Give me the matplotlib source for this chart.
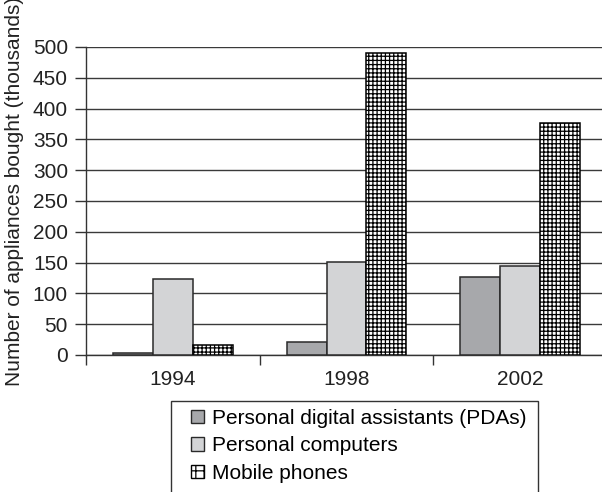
import matplotlib

matplotlib.use("Agg")
import matplotlib.pyplot as plt
import numpy as np
from matplotlib.patches import Patch, Rectangle

plt.rcParams["font.family"] = ["Liberation Sans", "DejaVu Sans"]
plt.rcParams["hatch.linewidth"] = 0.9

years = ["1994", "1998", "2002"]
pdas = [4, 21, 127]
computers = [123, 151, 144]
phones = [16, 491, 376]
series_labels = ["Personal digital assistants (PDAs)", "Personal computers", "Mobile phones"]

W, H = 602, 492
fig = plt.figure(figsize=(W / 100, H / 100), dpi=100)
ax = fig.add_axes([86 / W, (H - 355) / H, 521 / W, 308 / H])

x = np.arange(len(years))
bw = 40 / 174
edge = "#2a2a2a"
ax.bar(x - bw, pdas, bw, color="#a7a8ab", edgecolor=edge, lw=1.1, zorder=3)
ax.bar(x, computers, bw, color="#d3d4d6", edgecolor=edge, lw=1.1, zorder=3)
ax.bar(x + bw, phones, bw, color="white", edgecolor="black", hatch="++++", lw=1.1, zorder=3)

ax.set_xlim(-0.5, len(years) - 0.5)
ax.set_ylim(0, 500)
ax.set_yticks(np.arange(0, 501, 50))
ax.yaxis.grid(True, color="#3a3a3a", lw=1.0, zorder=0)
ax.set_axisbelow(True)

ax.set_xticks(x)
ax.set_xticklabels(years, fontsize=15, color="#222")
ax.set_xticks(np.arange(len(years) + 1) - 0.5, minor=True)
ax.tick_params(axis="x", which="major", length=0, pad=11)
ax.tick_params(axis="x", which="minor", length=7, width=1, color="#333", direction="out")
ax.tick_params(axis="y", length=8, width=1, color="#333", labelsize=15, labelcolor="#222", pad=5)

for s in ["top", "right"]:
    ax.spines[s].set_visible(False)
for s in ["left", "bottom"]:
    ax.spines[s].set_color("#333")
    ax.spines[s].set_linewidth(1.0)

# label runs off the top edge in the reference too
fig.text(15 / W, 1 - 386 / H, "Number of appliances bought (thousands)", rotation=90,
         ha="center", va="bottom", fontsize=15, color="#222")

handles = [
    Patch(facecolor="#a7a8ab", edgecolor=edge, lw=1),
    Patch(facecolor="#d3d4d6", edgecolor=edge, lw=1),
    Patch(facecolor="white", edgecolor="black", hatch="++", lw=1),
]
fig.legend(handles, series_labels, loc="upper left", bbox_to_anchor=(191 / W, 1 - 409 / H),
           frameon=False, borderpad=0, borderaxespad=0, fontsize=15, handlelength=0.6,
           handleheight=0.6, handletextpad=0.4, labelspacing=0.4)
fig.patches.append(Rectangle((171 / W, -0.1), 367 / W, 0.1 + (H - 401) / H,
                             transform=fig.transFigure, fill=False, ec="#333", lw=1))

fig.savefig("out.png", dpi=100)
